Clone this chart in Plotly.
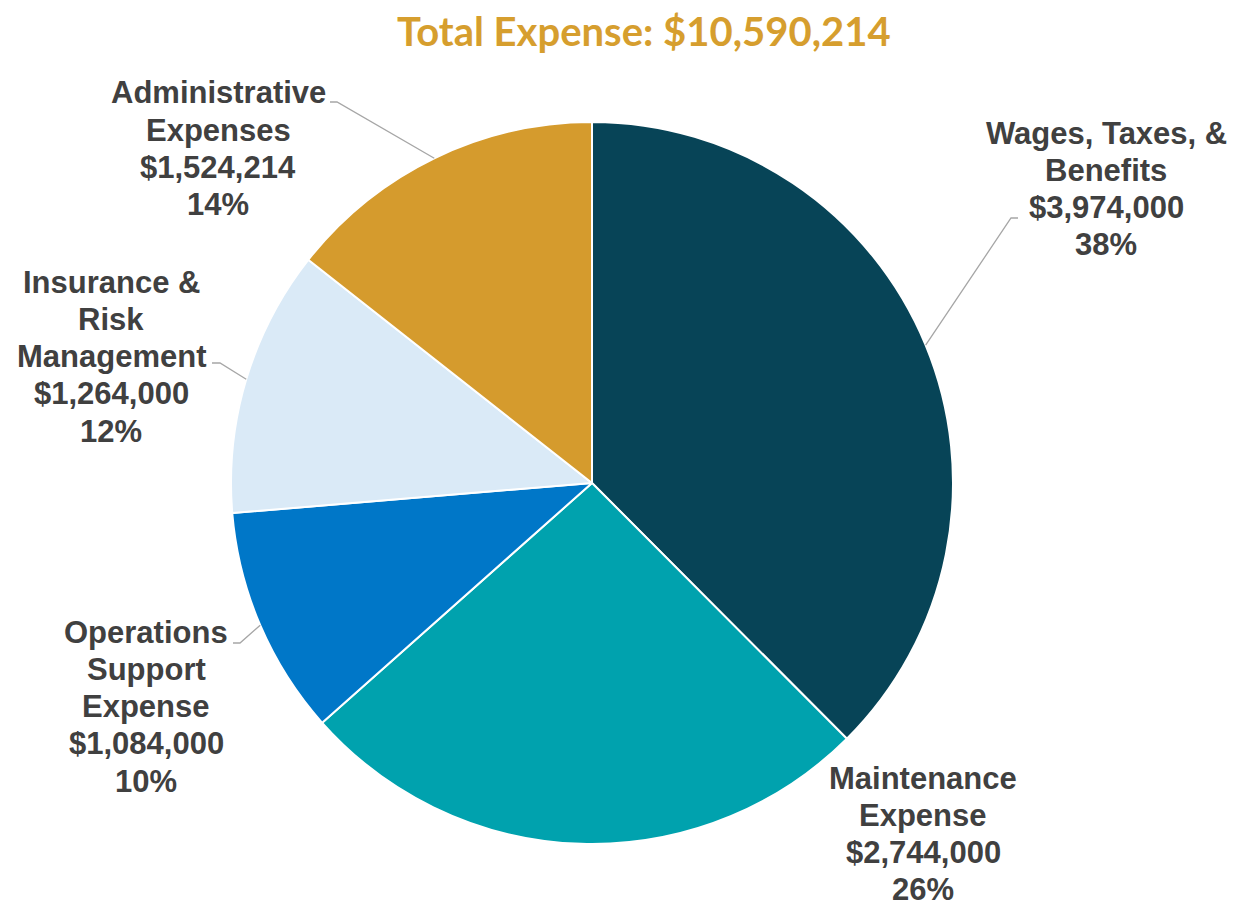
import math
import plotly.graph_objects as go

# ---- data ----
categories = ["Wages, Taxes, & Benefits", "Maintenance Expense", "Operations Support Expense",
              "Insurance & Risk Management", "Administrative Expenses"]
label_lines = [["Wages, Taxes, &", "Benefits"],
               ["Maintenance", "Expense"],
               ["Operations", "Support", "Expense"],
               ["Insurance &", "Risk", "Management"],
               ["Administrative", "Expenses"]]
values = [3974000, 2744000, 1084000, 1264000, 1524214]
colors = ["#074457", "#00A2AE", "#0077C8", "#DAEAF7", "#D59B2D"]
title_text = "Total Expense: $10,590,214"

W, H = 1242, 910
CX, CY, R = 592, 483, 361
LINE_H = 37.3
FONT_SIZE = 31

# label placement (pixels: centre x, first-line centre y) and leader elbows (None = no leader)
label_pos = [(1106, 133), (923, 778), (146, 632), (111, 282), (218, 93)]
elbows = [((1018, 218), (1011, 218)), None, ((233, 643), (240, 643)),
          ((212, 363), (220, 363)), ((330, 102), (337, 102))]


def px(x, y):
    return x / W, 1 - y / H


fig = go.Figure()
fig.add_trace(go.Pie(
    labels=categories, values=values, sort=False, direction="clockwise", rotation=0,
    marker=dict(colors=colors, line=dict(color="white", width=2)),
    textinfo="none", hoverinfo="label+value+percent", showlegend=False,
    domain=dict(x=[(CX - R) / W, (CX + R) / W], y=[1 - (CY + R) / H, 1 - (CY - R) / H]),
))

total = sum(values)
cum = 0
annotations = []
shapes = []
label_font = dict(family="Liberation Sans, Arial, sans-serif", size=FONT_SIZE,
                  color="#404040", weight="bold")
for i, v in enumerate(values):
    mid = (cum + v / 2) / total * 2 * math.pi
    cum += v
    ex, ey = CX + R * math.sin(mid), CY - R * math.cos(mid)
    pct = round(v / total * 100)
    lines = label_lines[i] + [f"${v:,.0f}", f"{pct}%"]
    lx, ly = label_pos[i]
    for k, line in enumerate(lines):
        ax, ay = px(lx, ly + k * LINE_H)
        annotations.append(dict(x=ax, y=ay, xref="paper", yref="paper", text=line,
                                showarrow=False, xanchor="center", yanchor="middle",
                                font=label_font))
    if elbows[i] is not None:
        (x0, y0), (x1, y1) = elbows[i]
        pts = [px(x0, y0), px(x1, y1), px(ex, ey)]
        path = "M {} {} L {} {} L {} {}".format(pts[0][0], pts[0][1], pts[1][0], pts[1][1],
                                               pts[2][0], pts[2][1])
        shapes.append(dict(type="path", path=path, xref="paper", yref="paper",
                           line=dict(color="#A6A6A6", width=1.3)))

tx, ty = px(644, 31)
annotations.append(dict(x=tx, y=ty, xref="paper", yref="paper", text=title_text, showarrow=False,
                        xanchor="center", yanchor="middle",
                        font=dict(family="Lato, sans-serif", size=40, color="#D69E2E",
                                  weight="bold")))

fig.update_layout(width=W, height=H, margin=dict(l=0, r=0, t=0, b=0),
                  paper_bgcolor="white", plot_bgcolor="white",
                  annotations=annotations, shapes=shapes)
fig.write_html("out.html", config={"displayModeBar": False},
               post_script="document.body.style.margin='0';document.body.style.padding='0';")
